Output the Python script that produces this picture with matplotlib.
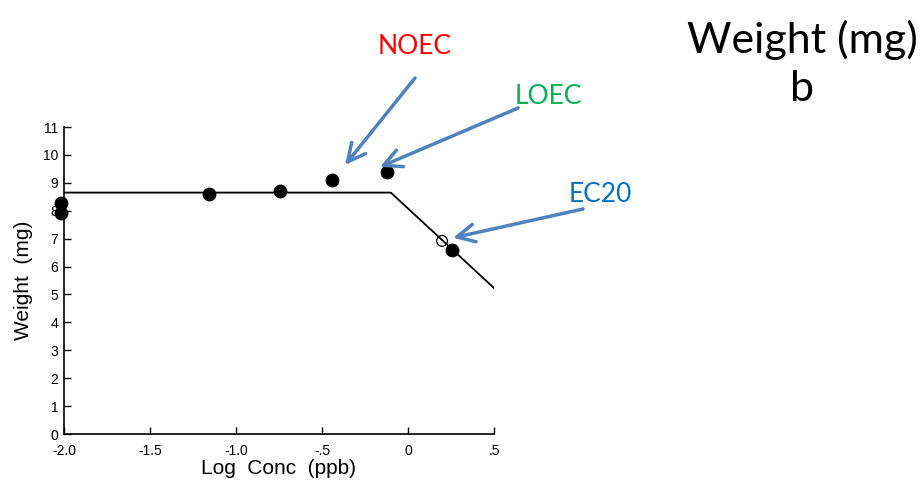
import numpy as np
import matplotlib
matplotlib.use("Agg")
import matplotlib.pyplot as plt

# observed weights
conc = [-2.02, -2.02, -1.157, -0.744, -0.442, -0.122, 0.256]
weight = [8.28, 7.92, 8.60, 8.71, 9.10, 9.39, 6.59]

# hockey-stick fit
fit_x = [-2.0, -0.10, 0.50]
fit_y = [8.65, 8.65, 5.23]

# EC20 point (open circle)
ec20_x = [0.198]
ec20_y = [6.92]

# annotations: label, colour, arrow tip (data), tail (fig px), text pos (fig px)
labels = ["NOEC", "LOEC", "EC20"]
label_colors = ["#FF0000", "#00B050", "#0070C0"]
tips = [(-0.366, 9.64), (-0.163, 9.57), (0.262, 7.03)]
tails = [(415, 406), (518, 376), (583, 275)]
text_pos = [(415, 437), (548, 387), (600, 289)]

fig = plt.figure(figsize=(9.22, 4.84), dpi=100)
ax = fig.add_axes([0.0694, 0.1033, 0.4664, 0.6343])

ax.plot(fit_x, fit_y, color="black", lw=1.3, zorder=2)
ax.scatter(conc, weight, s=80, color="black", zorder=3, clip_on=False)
ax.scatter(ec20_x, ec20_y, s=60, facecolors="none", edgecolors="black", lw=0.9, zorder=3)

ax.set_xlim(-2.0, 0.5)
ax.set_ylim(0, 11)
ax.set_xticks([-2.0, -1.5, -1.0, -0.5, 0, 0.5])
ax.set_xticklabels(["-2.0", "-1.5", "-1.0", "-.5", "0", ".5"])
ax.set_yticks(range(0, 12))
for s in ["top", "right"]:
    ax.spines[s].set_visible(False)
ax.spines["left"].set_linewidth(1.2)
ax.spines["bottom"].set_linewidth(1.2)
ax.tick_params(direction="in", length=5, width=1, labelsize=10)
ax.tick_params(axis="x", pad=7)
ax.tick_params(axis="y", pad=4)
for lab in ax.get_xticklabels() + ax.get_yticklabels():
    lab.set_fontfamily("Liberation Sans")
ax.set_xlabel("Log  Conc  (ppb)", fontsize=15, family="Liberation Sans", labelpad=1)
ax.set_ylabel("Weight  (mg)", fontsize=15, family="Liberation Sans", labelpad=7)

for lab, col, tip, tail, tp in zip(labels, label_colors, tips, tails, text_pos):
    ax.annotate("", xy=tip, xycoords="data", xytext=tail, textcoords="figure pixels",
                arrowprops=dict(arrowstyle="->", color="#4F81BD", lw=2.5,
                                mutation_scale=32, shrinkA=0, shrinkB=0))
    fig.text(tp[0] / 922, tp[1] / 484, lab, color=col, fontsize=19,
             family="Lato", ha="center", va="center")

fig.text(802 / 922, 444 / 484, "Weight (mg)", fontsize=31, family="Lato",
         ha="center", va="center")
fig.text(802 / 922, 395 / 484, "b", fontsize=31, family="Lato",
         ha="center", va="center")

fig.savefig("out.png", dpi=100)
